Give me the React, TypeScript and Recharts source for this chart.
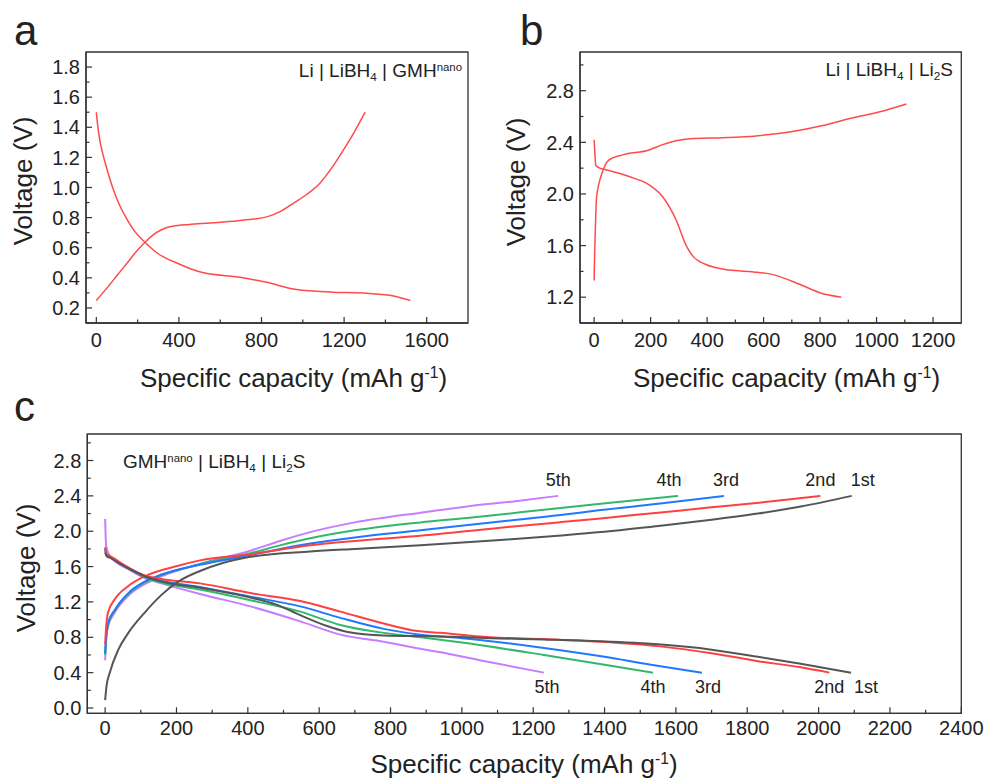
import React from "react";
import { LineChart, Line, XAxis, YAxis, ReferenceArea } from "recharts";

const FONT = '"Liberation Sans", Arial, sans-serif';
const AXIS = "#333";
const TEXT = "#222";

// ---- panel a: Li | LiBH4 | GMH-nano  (capacity mAh/g, voltage V)
const aDischarge = [
  [0, 1.5], [6, 1.42], [15, 1.33], [30, 1.23], [50, 1.13], [79, 1.0], [110, 0.89], [144, 0.8],
  [185, 0.71], [233, 0.64], [300, 0.56], [387, 0.5], [500, 0.44], [711, 0.4], [825, 0.37],
  [970, 0.322], [1148, 0.305], [1310, 0.297], [1440, 0.28], [1521, 0.25],
];
const aCharge = [
  [0, 0.25], [50, 0.33], [100, 0.415], [150, 0.5], [200, 0.585], [250, 0.655], [290, 0.7],
  [330, 0.728], [371, 0.743], [450, 0.755], [550, 0.764], [662, 0.776], [760, 0.79], [825, 0.805],
  [890, 0.84], [954, 0.895], [1020, 0.955], [1084, 1.03], [1140, 1.13], [1197, 1.25],
  [1250, 1.37], [1302, 1.5],
];
const aXMajor = [0, 400, 800, 1200, 1600];
const aXMinor = [200, 600, 1000, 1400];
const aYMajor = [0.2, 0.4, 0.6, 0.8, 1.0, 1.2, 1.4, 1.6, 1.8];
const aYMinor = [0.3, 0.5, 0.7, 0.9, 1.1, 1.3, 1.5, 1.7];

// ---- panel b: Li | LiBH4 | Li2S
const bDischarge = [
  [0, 2.42], [3, 2.3], [6, 2.22], [20, 2.2], [41, 2.187], [124, 2.135], [195, 2.07], [242, 1.98],
  [290, 1.8], [326, 1.6], [349, 1.52], [394, 1.455], [479, 1.41], [565, 1.396], [633, 1.375],
  [728, 1.3], [799, 1.235], [875, 1.2],
];
const bCharge = [
  [0, 1.33], [2, 1.55], [4, 1.7], [8, 1.955], [15, 2.06], [24, 2.135], [53, 2.264], [101, 2.303],
  [195, 2.341], [240, 2.38], [290, 2.412], [340, 2.428], [456, 2.436], [574, 2.45], [692, 2.48],
  [810, 2.53], [905, 2.584], [1012, 2.637], [1106, 2.697],
];
const bXMajor = [0, 200, 400, 600, 800, 1000, 1200];
const bXMinor = [100, 300, 500, 700, 900, 1100];
const bYMajor = [1.2, 1.6, 2.0, 2.4, 2.8];
const bYMinor = [1.4, 1.8, 2.2, 2.6, 3.0];

// ---- panel c: GMH-nano | LiBH4 | Li2S, cycles 1-5
const cCharge1 = [
  [0, 0.09], [4, 0.25], [13, 0.4], [37, 0.66], [65, 0.85], [111, 1.08], [158, 1.28], [205, 1.43],
  [266, 1.55], [330, 1.64], [407, 1.71], [575, 1.77], [700, 1.8], [884, 1.84], [1108, 1.9],
  [1270, 1.95], [1389, 1.99], [1550, 2.06], [1700, 2.13], [1830, 2.2], [1950, 2.28], [2093, 2.4],
];
const cCharge2 = [
  [0, 0.72], [3, 0.92], [8, 1.08], [27, 1.23], [65, 1.38], [111, 1.49], [205, 1.61], [266, 1.67],
  [407, 1.74], [575, 1.84], [700, 1.89], [884, 1.95], [1108, 2.04], [1270, 2.1], [1389, 2.145],
  [1550, 2.21], [1700, 2.27], [1850, 2.33], [2005, 2.4],
];
const cCharge3 = [
  [0, 0.62], [3, 0.82], [8, 0.96], [27, 1.11], [65, 1.3], [111, 1.43], [158, 1.51], [266, 1.62],
  [407, 1.73], [490, 1.8], [575, 1.86], [700, 1.93], [884, 2.01], [1108, 2.11], [1270, 2.18],
  [1389, 2.24], [1550, 2.31], [1735, 2.4],
];
const cCharge4 = [
  [0, 0.6], [3, 0.8], [8, 0.94], [27, 1.1], [65, 1.29], [111, 1.42], [158, 1.5], [266, 1.63],
  [407, 1.75], [490, 1.84], [575, 1.92], [700, 2.01], [884, 2.1], [1015, 2.15], [1270, 2.26],
  [1389, 2.31], [1606, 2.4],
];
const cCharge5 = [
  [0, 0.54], [3, 0.76], [8, 0.92], [27, 1.08], [65, 1.27], [111, 1.4], [158, 1.49], [266, 1.63],
  [407, 1.78], [490, 1.89], [575, 1.99], [700, 2.1], [884, 2.21], [1015, 2.28], [1150, 2.34],
  [1270, 2.4],
];
const cDischarge1 = [
  [0, 1.76], [4, 1.72], [13, 1.7], [65, 1.58], [111, 1.49], [158, 1.43], [266, 1.36], [407, 1.25],
  [480, 1.17], [547, 1.05], [620, 0.93], [680, 0.86], [781, 0.82], [940, 0.81], [1080, 0.79],
  [1230, 0.775], [1389, 0.755], [1550, 0.72], [1700, 0.66], [1830, 0.58], [1950, 0.5], [2091, 0.4],
];
const cDischarge2 = [
  [0, 1.82], [4, 1.74], [13, 1.72], [65, 1.59], [111, 1.5], [158, 1.46], [266, 1.41], [407, 1.3],
  [547, 1.21], [659, 1.09], [781, 0.955], [860, 0.88], [940, 0.85], [1080, 0.8], [1230, 0.78],
  [1389, 0.75], [1550, 0.7], [1700, 0.62], [1830, 0.53], [1950, 0.46], [2030, 0.4],
];
const cDischarge3 = [
  [0, 1.8], [4, 1.73], [13, 1.71], [65, 1.585], [111, 1.49], [158, 1.44], [266, 1.37], [407, 1.26],
  [547, 1.15], [659, 1.02], [781, 0.895], [884, 0.83], [1000, 0.79], [1230, 0.68], [1400, 0.58],
  [1530, 0.49], [1673, 0.4],
];
const cDischarge4 = [
  [0, 1.8], [4, 1.73], [13, 1.71], [65, 1.58], [111, 1.48], [158, 1.42], [266, 1.34], [407, 1.22],
  [547, 1.09], [659, 0.94], [781, 0.85], [884, 0.8], [1000, 0.74], [1230, 0.6], [1400, 0.49],
  [1536, 0.4],
];
const cDischarge5 = [
  [0, 2.14], [3, 1.83], [13, 1.72], [65, 1.57], [111, 1.47], [158, 1.41], [266, 1.29], [407, 1.15],
  [547, 0.98], [659, 0.83], [781, 0.75], [884, 0.67], [940, 0.63], [1050, 0.54], [1230, 0.4],
];
const cycleNames = ["1st", "2nd", "3rd", "4th", "5th"];
const cXMajor = [0, 200, 400, 600, 800, 1000, 1200, 1400, 1600, 1800, 2000, 2200, 2400];
const cXMinor = [100, 300, 500, 700, 900, 1100, 1300, 1500, 1700, 1900, 2100, 2300];
const cYMajor = [0.0, 0.4, 0.8, 1.2, 1.6, 2.0, 2.4, 2.8];
const cYMinor = [0.2, 0.6, 1.0, 1.4, 1.8, 2.2, 2.6, 3.0];

// styling
const RED = "#ff4a4a";
const cycleColors = ["#555555", "#ff4040", "#1f78ff", "#33b86b", "#c77dff"];
// label nudges for the cycle tags (px, relative to curve end)
const chargeTagDx = [11, 0, 2, -9, 0];
const dischargeTagDx = [15, 0, 6, 0, 3];

const toPts = (arr: number[][]) => arr.map(([x, y]) => ({ x, y }));
const near = (list: number[], v: number) => list.some((m) => Math.abs(m - v) < 1e-6);

const XTick = ({ x, y, payload, majors, gap }: any) => {
  const major = near(majors, payload.value);
  return (
    <g>
      <line x1={x} x2={x} y1={y} y2={y - (major ? 6 : 3.5)} stroke={AXIS} strokeWidth={1.2} />
      {major && (
        <text x={x} y={y + gap} textAnchor="middle" fontSize={20} fontFamily={FONT} fill={TEXT}>
          {payload.value}
        </text>
      )}
    </g>
  );
};

const YTick = ({ x, y, payload, majors }: any) => {
  const major = near(majors, payload.value);
  return (
    <g>
      <line x1={x} x2={x + (major ? 6 : 3.5)} y1={y} y2={y} stroke={AXIS} strokeWidth={1.2} />
      {major && (
        <text x={x - 6} y={y} dy="0.36em" textAnchor="end" fontSize={20} fontFamily={FONT} fill={TEXT}>
          {Number(payload.value).toFixed(1)}
        </text>
      )}
    </g>
  );
};

const tagLabel = (name: string, len: number, dx: number, dy: number) => (p: any) =>
  p.index === len - 1 ? (
    <text x={p.x + dx} y={p.y + dy} textAnchor="middle" fontSize={18} fontFamily={FONT} fill={TEXT}>
      {name}
    </text>
  ) : null;

type Series = { data: number[][]; color: string; width: number; tag?: string; dx?: number; dy?: number };

const Panel = (props: {
  left: number; top: number; width: number; height: number;
  margin: { top: number; right: number; bottom: number; left: number };
  xDomain: number[]; yDomain: number[];
  xMajor: number[]; xMinor: number[]; yMajor: number[]; yMinor: number[];
  gap: number; series: Series[];
}) => {
  const { left, top, width, height, margin, xDomain, yDomain, xMajor, xMinor, yMajor, yMinor, gap, series } = props;
  const xt = [...xMajor, ...xMinor].sort((a, b) => a - b);
  const yt = [...yMajor, ...yMinor].sort((a, b) => a - b);
  return (
    <div style={{ position: "absolute", left, top }}>
      <LineChart width={width} height={height} margin={margin}>
        <XAxis
          type="number" dataKey="x" domain={xDomain} allowDataOverflow ticks={xt} interval={0}
          tickSize={0} tickMargin={0} tickLine={false} height={30}
          axisLine={{ stroke: AXIS, strokeWidth: 1.3 }}
          tick={(p: any) => <XTick {...p} majors={xMajor} gap={gap} />}
        />
        <YAxis
          type="number" dataKey="y" domain={yDomain} allowDataOverflow ticks={yt} interval={0}
          tickSize={0} tickMargin={0} tickLine={false} width={60}
          axisLine={{ stroke: AXIS, strokeWidth: 1.3 }}
          tick={(p: any) => <YTick {...p} majors={yMajor} />}
        />
        {/* plot frame */}
        <ReferenceArea
          x1={xDomain[0]} x2={xDomain[1]} y1={yDomain[0]} y2={yDomain[1]}
          fill="none" fillOpacity={0} stroke={AXIS} strokeWidth={1.3} ifOverflow="visible"
        />
        {series.map((s, i) => (
          <Line
            key={i} data={toPts(s.data)} dataKey="y" type="monotone" stroke={s.color}
            strokeWidth={s.width} dot={false} activeDot={false} isAnimationActive={false}
            label={s.tag ? tagLabel(s.tag, s.data.length, s.dx || 0, s.dy || 0) : false}
          />
        ))}
      </LineChart>
    </div>
  );
};

const sub: React.CSSProperties = { fontSize: "0.62em", position: "relative", top: "0.3em" };
const sup: React.CSSProperties = { fontSize: "0.6em", position: "relative", top: "-0.55em" };

const abs = (left: number, top: number, extra: React.CSSProperties = {}): React.CSSProperties => ({
  position: "absolute", left, top, whiteSpace: "nowrap", ...extra,
});

const XTitle = ({ cx, baseline }: { cx: number; baseline: number }) => (
  <div style={abs(cx - 200, baseline - 22, { width: 400, textAlign: "center", fontSize: 26, lineHeight: "26px" })}>
    Specific capacity (mAh g<span style={sup}>-1</span>)
  </div>
);
const YTitle = ({ cx, cy }: { cx: number; cy: number }) => (
  <div style={abs(cx - 100, cy - 13, { width: 200, height: 26, textAlign: "center", fontSize: 26, lineHeight: "26px", transform: "rotate(-90deg)" })}>
    Voltage (V)
  </div>
);
const Letter = ({ x, baseline, children }: any) => (
  <div style={abs(x, baseline - 35.5, { fontSize: 42, lineHeight: "42px" })}>{children}</div>
);

export default function App() {
  const cSeries: Series[] = [];
  const charges = [cCharge1, cCharge2, cCharge3, cCharge4, cCharge5];
  const discharges = [cDischarge1, cDischarge2, cDischarge3, cDischarge4, cDischarge5];
  for (let i = 4; i >= 0; i--) {
    cSeries.push({ data: discharges[i], color: cycleColors[i], width: 2, tag: cycleNames[i], dx: dischargeTagDx[i], dy: 20 });
    cSeries.push({ data: charges[i], color: cycleColors[i], width: 2, tag: cycleNames[i], dx: chargeTagDx[i], dy: -10 });
  }

  return (
    <div style={{ position: "absolute", left: 0, top: 0, width: 984, height: 780, background: "#fff", fontFamily: FONT, color: TEXT }}>
      <Panel
        left={0} top={0} width={480} height={390}
        margin={{ top: 52, right: 12, bottom: 37, left: 26 }}
        xDomain={[-50, 1800]} yDomain={[0.1, 1.9]}
        xMajor={aXMajor} xMinor={aXMinor} yMajor={aYMajor} yMinor={aYMinor} gap={24}
        series={[{ data: aDischarge, color: RED, width: 1.5 }, { data: aCharge, color: RED, width: 1.5 }]}
      />
      <Panel
        left={490} top={0} width={494} height={390}
        margin={{ top: 52, right: 22.7, bottom: 37, left: 30 }}
        xDomain={[-50, 1300]} yDomain={[1.0, 3.1]}
        xMajor={bXMajor} xMinor={bXMinor} yMajor={bYMajor} yMinor={bYMinor} gap={24}
        series={[{ data: bDischarge, color: RED, width: 1.5 }, { data: bCharge, color: RED, width: 1.5 }]}
      />
      <Panel
        left={0} top={400} width={984} height={380}
        margin={{ top: 34, right: 22.7, bottom: 36.7, left: 27.3 }}
        xDomain={[-50, 2400]} yDomain={[-0.06, 3.1]}
        xMajor={cXMajor} xMinor={cXMinor} yMajor={cYMajor} yMinor={cYMinor} gap={22}
        series={cSeries}
      />

      <Letter x={14} baseline={45}>a</Letter>
      <Letter x={520} baseline={45}>b</Letter>
      <Letter x={14} baseline={421}>c</Letter>

      <div style={abs(262, 61, { width: 200, textAlign: "right", fontSize: 19, lineHeight: "19px" })}>
        Li | LiBH<span style={sub}>4</span> | GMH<span style={sup}>nano</span>
      </div>
      <div style={abs(753, 60, { width: 200, textAlign: "right", fontSize: 19, lineHeight: "19px" })}>
        Li | LiBH<span style={sub}>4</span> | Li<span style={sub}>2</span>S
      </div>
      <div style={abs(123, 452, { fontSize: 19, lineHeight: "19px" })}>
        GMH<span style={sup}>nano</span> | LiBH<span style={sub}>4</span> | Li<span style={sub}>2</span>S
      </div>

      <XTitle cx={293.5} baseline={386.7} />
      <XTitle cx={786.5} baseline={386.7} />
      <XTitle cx={524} baseline={773} />
      <YTitle cx={22.6} cy={181} />
      <YTitle cx={516} cy={182} />
      <YTitle cx={25.6} cy={567.5} />
    </div>
  );
}
